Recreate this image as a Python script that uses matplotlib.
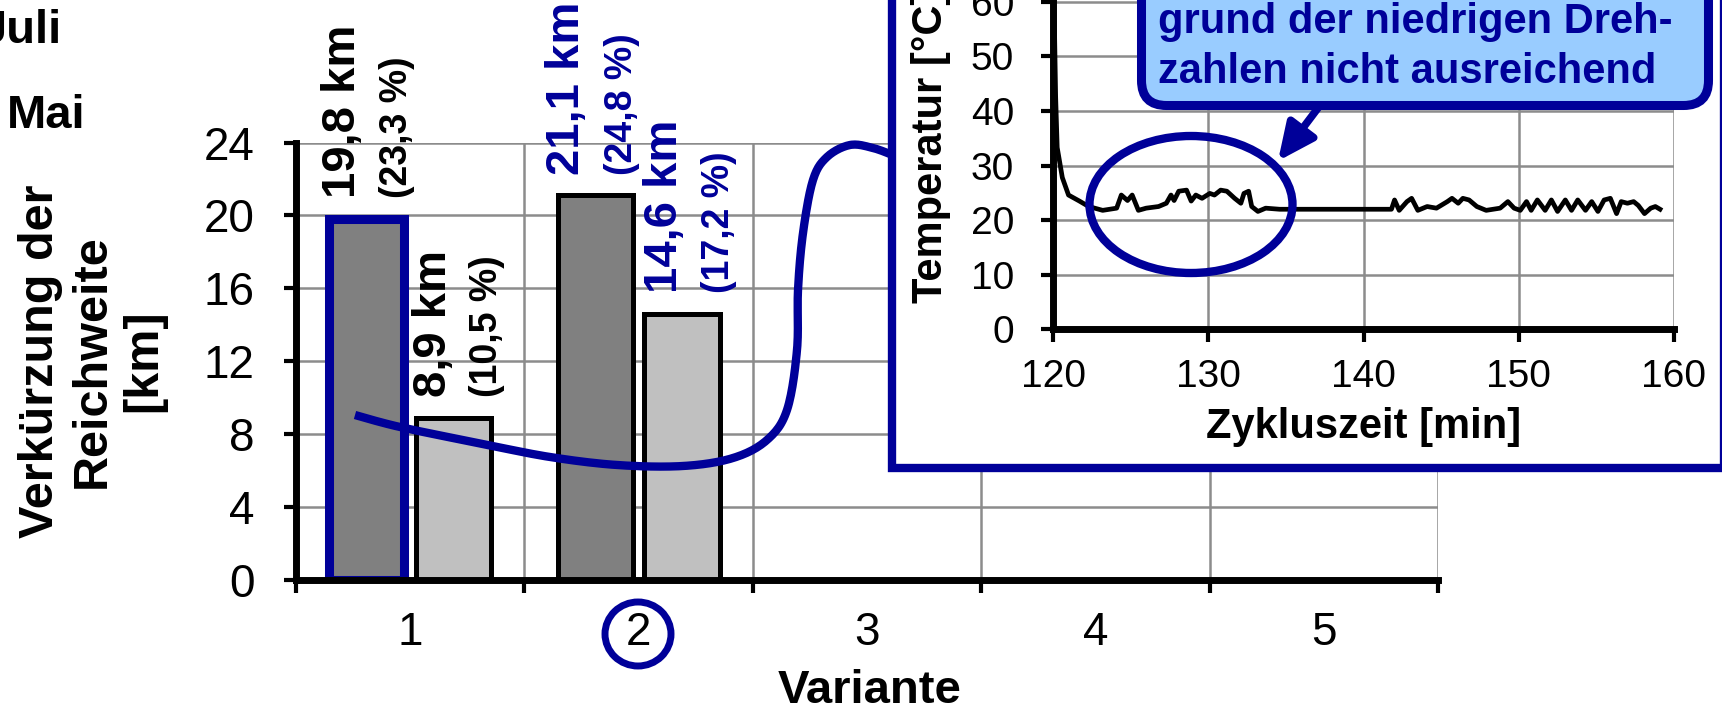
import numpy as np
import matplotlib
matplotlib.use('Agg')
import matplotlib.pyplot as plt
from matplotlib import patches, transforms
from matplotlib.lines import Line2D

plt.rcParams['font.family'] = ['Liberation Sans', 'DejaVu Sans']

W, H = 1722, 707
NAVY = '#000099'
DARK = '#808080'
LIGHT = '#C0C0C0'
GRID = '#8c8c8c'

# Verkürzung der Reichweite je Variante (nur 1 und 2 belegt)
variants = [1, 2, 3, 4, 5]
juli_km = [19.8, 21.1]
mai_km = [8.9, 14.6]
juli_txt = ['19,8 km', '21,1 km']
juli_pct = ['(23,3 %)', '(24,8 %)']
mai_txt = ['8,9 km', '14,6 km']
mai_pct = ['(10,5 %)', '(17,2 %)']
label_colors = ['black', NAVY]

# Temperaturverlauf im Ausschnitt
zeit = [120.0, 120.06, 120.17, 120.27, 120.6, 121.0, 121.7, 122.3, 123.2, 124.1,
        124.4, 124.8, 125.1, 125.5, 126.0, 126.8, 127.3, 127.6, 127.8, 128.1,
        128.6, 128.9, 129.2, 129.6, 130.1, 130.4, 130.8, 131.2, 131.7, 132.1,
        132.3, 132.6, 132.8, 133.2, 133.7, 134.6, 141.8, 142.0, 142.3, 142.8,
        143.1, 143.5, 144.1, 144.7, 145.4, 145.7, 146.1, 146.4, 146.8, 147.3,
        147.9, 148.8, 149.3, 149.7, 150.1, 150.5, 150.8, 151.2, 151.7, 152.1,
        152.5, 153.0, 153.4, 153.8, 154.3, 154.7, 155.1, 155.5, 155.9, 156.3,
        156.6, 157.0, 157.4, 157.7, 158.1, 158.5, 158.8, 159.1]
temp = [75, 61, 42.6, 33.3, 27.8, 24.6, 23.5, 22.5, 21.8, 22.2,
        24.6, 23.6, 24.6, 21.8, 22.2, 22.5, 23.1, 24.6, 23.6, 25.3,
        25.5, 23.5, 24.6, 24.0, 24.9, 24.6, 25.5, 25.3, 24.0, 23.1,
        24.9, 25.3, 22.5, 21.6, 22.2, 22.0, 22.0, 23.7, 21.8, 23.4,
        24.0, 21.8, 22.5, 22.2, 23.4, 24.0, 23.1, 24.0, 23.7, 22.5,
        21.8, 22.2, 23.4, 22.2, 21.8, 23.4, 21.8, 23.7, 21.8, 23.7,
        21.6, 23.7, 21.8, 23.7, 21.8, 23.4, 21.6, 23.7, 24.0, 21.2,
        23.4, 23.1, 23.4, 22.7, 21.2, 22.2, 22.5, 22.0]

# freehand connector from bar 1 to the inset (pixel coords)
connector = [(355, 415), (400, 427), (483, 444), (550, 457), (617, 465),
             (683, 466), (733, 458), (767, 440), (787, 410), (797, 350),
             (798, 290), (803, 233), (813, 180), (827, 157), (850, 145),
             (873, 148), (895, 156)]


def smooth(pts, n=14):
    pts = np.asarray(pts, float)
    p = np.vstack([pts[0], pts, pts[-1]])
    out = []
    for i in range(1, len(p) - 2):
        p0, p1, p2, p3 = p[i - 1], p[i], p[i + 1], p[i + 2]
        for t in np.linspace(0, 1, n, endpoint=False):
            out.append(0.5 * (2 * p1 + (-p0 + p2) * t
                              + (2 * p0 - 5 * p1 + 4 * p2 - p3) * t ** 2
                              + (-p0 + 3 * p1 - 3 * p2 + p3) * t ** 3))
    out.append(pts[-1])
    return np.array(out)


fig = plt.figure(figsize=(W / 100, H / 100), dpi=100)
PX = transforms.Affine2D().scale(1 / W, -1 / H).translate(0, 1) + fig.transFigure

# main bar chart
ax = fig.add_axes([296 / W, 1 - 580 / H, 1142 / W, 437.5 / H])
ax.set_zorder(0)
x_dark = [v - 0.19 for v in variants[:2]]
x_light = [v + 0.19 for v in variants[:2]]
bars_d = ax.bar(x_dark, juli_km, 0.33, color=DARK, edgecolor='black', lw=3.6, zorder=2)
ax.bar(x_light, mai_km, 0.33, color=LIGHT, edgecolor='black', lw=3.6, zorder=2)
bars_d[0].set_edgecolor(NAVY)
bars_d[0].set_linewidth(6.5)

# label offsets in points: (first line, second line)
offs_dark = [(-17, 22), (-20, 19)]
offs_light = [(-14, 24), (-12, 27)]
for i in range(2):
    c = label_colors[i]
    for x, v, t1, t2, (d1, d2) in [(x_dark[i], juli_km[i], juli_txt[i], juli_pct[i], offs_dark[i]),
                                   (x_light[i], mai_km[i], mai_txt[i], mai_pct[i], offs_light[i])]:
        ax.annotate(t1, xy=(x, v), xytext=(d1, 15), textcoords='offset points',
                    rotation=90, ha='center', va='bottom', fontsize=34,
                    fontweight='bold', color=c, annotation_clip=False)
        ax.annotate(t2, xy=(x, v), xytext=(d2, 15), textcoords='offset points',
                    rotation=90, ha='center', va='bottom', fontsize=27,
                    fontweight='bold', color=c, annotation_clip=False)

ax.set_xlim(0.5, 5.5)
ax.set_ylim(0, 24)
ax.set_yticks(range(0, 25, 4))
ax.set_xticks(np.arange(0.5, 6, 1))
ax.set_xticklabels([])
ax.set_xticks(variants, minor=True)
ax.set_xticklabels([str(v) for v in variants], minor=True)
ax.set_axisbelow(True)
ax.grid(True, which='major', color=GRID, lw=1.8)
ax.tick_params(axis='x', which='major', length=9, width=3, direction='out')
ax.tick_params(axis='x', which='minor', length=0, pad=22, labelsize=33)
ax.tick_params(axis='y', length=9, width=3, direction='out', pad=21, labelsize=33)
for s in ['top', 'right']:
    ax.spines[s].set_visible(False)
for s in ['left', 'bottom']:
    ax.spines[s].set_linewidth(5)

fig.text(92, 361, 'Verkürzung der\nReichweite\n[km]', transform=PX, rotation=90,
         ha='center', va='center', multialignment='center', fontsize=35,
         fontweight='bold', linespacing=1.18)
fig.text(870, 703, 'Variante', transform=PX, ha='center', va='baseline',
         fontsize=34, fontweight='bold')
fig.text(62, 43, 'Juli', transform=PX, ha='right', va='baseline',
         fontsize=34, fontweight='bold')
fig.text(86, 128, 'Mai', transform=PX, ha='right', va='baseline',
         fontsize=34, fontweight='bold')
fig.add_artist(patches.Ellipse((638, 634), 66, 64, transform=PX, fill=False,
                               ec=NAVY, lw=5, zorder=5))

xs, ys = smooth(connector).T
fig.add_artist(Line2D(xs, ys, transform=PX, color=NAVY, lw=6, zorder=0.5,
                      solid_capstyle='butt'))

# inset frame
fig.add_artist(patches.Rectangle((892, -40), 1724 - 892, 468 + 40, transform=PX,
                                 fc='white', ec=NAVY, lw=6, zorder=1))

axi = fig.add_axes([1053 / W, 1 - 329.5 / H, 621 / W, 382.6 / H])
axi.set_zorder(2)
axi.set_facecolor('none')
axi.plot(zeit, temp, color='black', lw=3.4)
axi.set_xlim(120, 160)
axi.set_ylim(0, 70)
axi.set_xticks(range(120, 161, 10))
axi.set_yticks(range(0, 71, 10))
axi.grid(True, color=GRID, lw=1.8)
axi.set_axisbelow(True)
axi.tick_params(axis='x', length=9, width=3, pad=12, labelsize=28)
axi.tick_params(axis='y', length=9, width=3, pad=19, labelsize=28)
for s in ['top', 'right']:
    axi.spines[s].set_visible(False)
for s in ['left', 'bottom']:
    axi.spines[s].set_linewidth(5)
fig.text(1364, 427, 'Zykluszeit [min]', transform=PX, ha='center', va='center',
         fontsize=30, fontweight='bold', zorder=3)
fig.text(931, 303, 'Temperatur [°C]', transform=PX, rotation=90, ha='center',
         va='bottom', fontsize=30, fontweight='bold', zorder=3)

# callout
fig.add_artist(patches.Ellipse((1191, 204.5), 203, 137, transform=PX, fill=False,
                               ec=NAVY, lw=6, zorder=4))
fig.add_artist(patches.FancyBboxPatch((1141.5, -60), 567, 165.5,
                                      boxstyle='round,pad=0,rounding_size=25',
                                      transform=PX, fc='#99CCFF', ec=NAVY, lw=6.5,
                                      zorder=4))
fig.add_artist(patches.FancyArrowPatch((1318, 108), (1278, 161), transform=PX,
                                       arrowstyle='-|>,head_length=1.4,head_width=0.65',
                                       mutation_scale=16, color=NAVY, lw=5.5,
                                       shrinkA=0, shrinkB=0, zorder=4))
fig.text(1158, 33, 'grund der niedrigen Dreh-', transform=PX, ha='left',
         va='baseline', fontsize=30, fontweight='bold', color=NAVY, zorder=5)
fig.text(1158, 83, 'zahlen nicht ausreichend', transform=PX, ha='left',
         va='baseline', fontsize=30, fontweight='bold', color=NAVY, zorder=5)

fig.savefig('out.png', dpi=100)
